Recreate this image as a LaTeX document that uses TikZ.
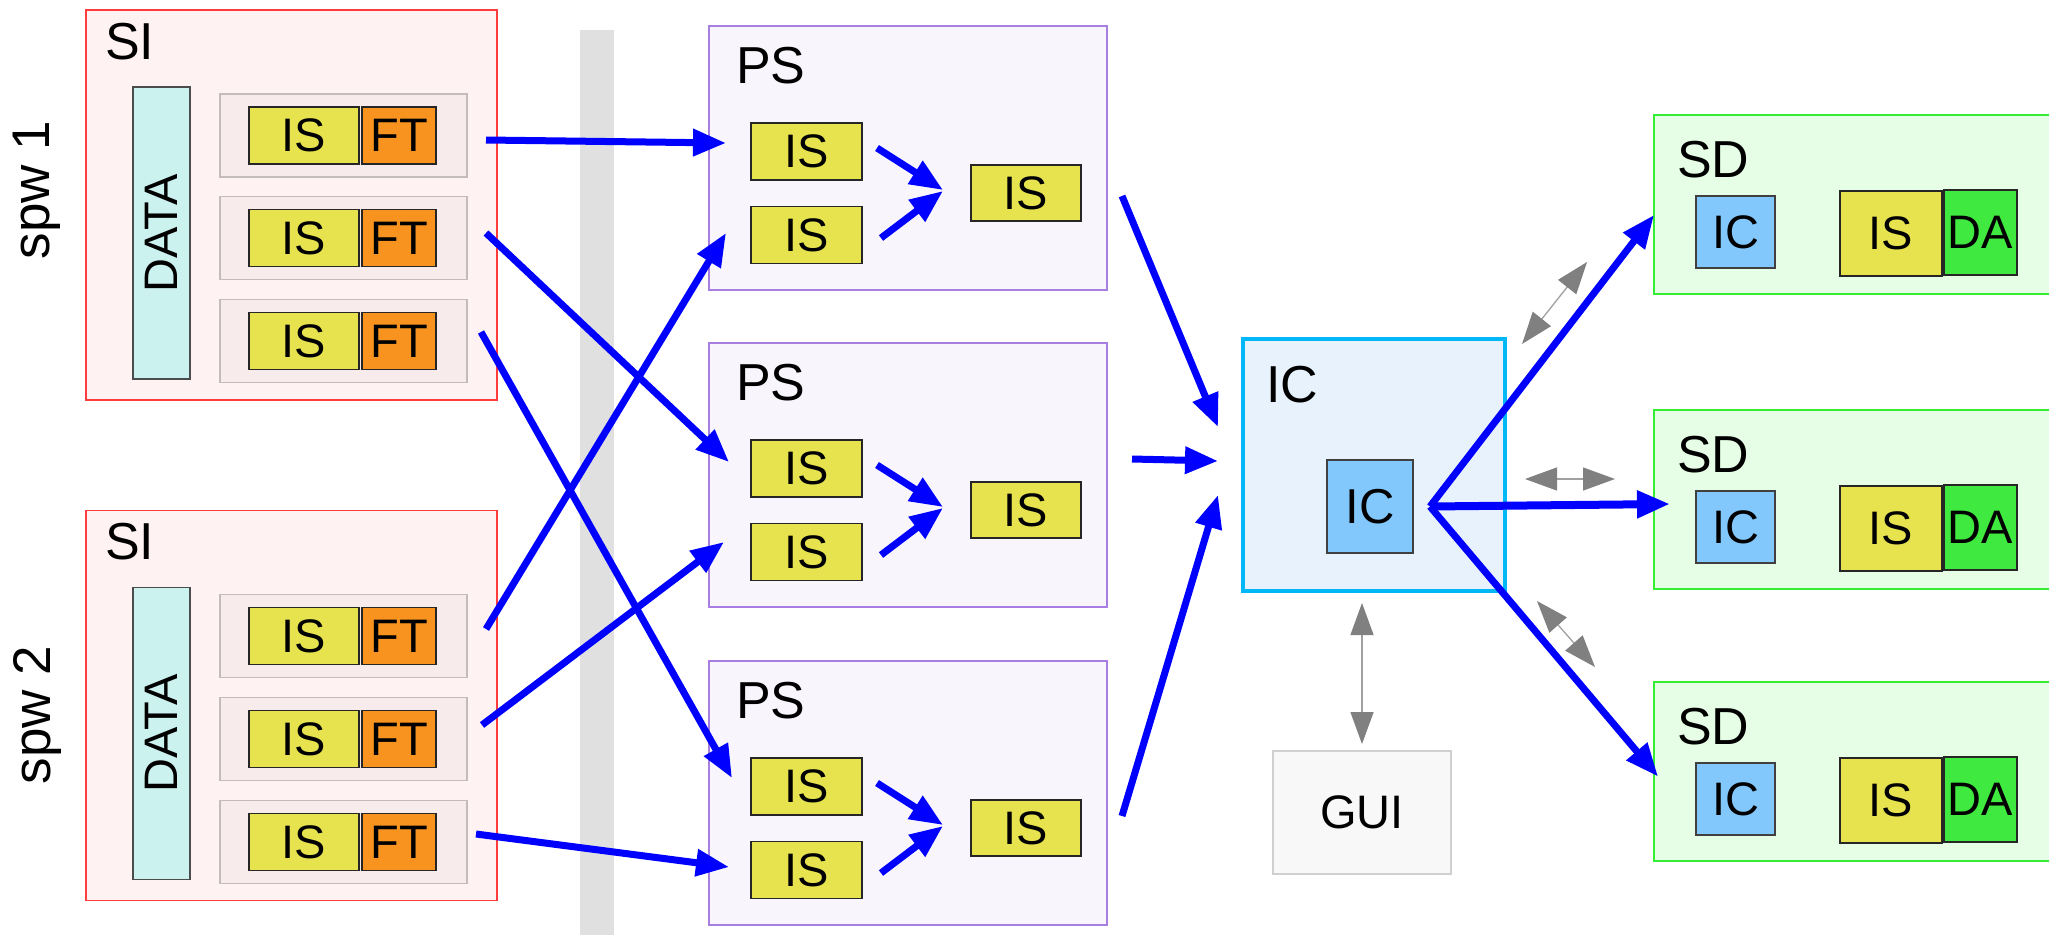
\documentclass[tikz,border=0pt]{standalone}
\usepackage{fontspec}
\setmainfont{Liberation Sans}
\usetikzlibrary{arrows.meta,calc}
\definecolor{siFill}{HTML}{FFF2F2}
\definecolor{siDraw}{HTML}{FF3B3B}
\definecolor{rowFill}{HTML}{F8EBEB}
\definecolor{rowDraw}{HTML}{C4BCBC}
\definecolor{dataFill}{HTML}{CCF2F0}
\definecolor{isY}{HTML}{E6E34E}
\definecolor{ftO}{HTML}{F7931E}
\definecolor{psFill}{HTML}{F8F6FC}
\definecolor{psDraw}{HTML}{A87FE0}
\definecolor{icFill}{HTML}{E8F2FC}
\definecolor{icDraw}{HTML}{00B8F8}
\definecolor{icIn}{HTML}{82C8FC}
\definecolor{sdFill}{HTML}{E6FDE6}
\definecolor{sdDraw}{HTML}{33EE33}
\definecolor{daG}{HTML}{3FE93F}
\definecolor{guiFill}{HTML}{F8F8F8}
\definecolor{guiDraw}{HTML}{D0D0D0}
\definecolor{barG}{HTML}{E0E0E0}
\definecolor{arrB}{HTML}{0000FF}
\definecolor{arrG}{HTML}{808080}
\newcommand\myfs[1]{\fontsize{#1pt}{#1pt}\selectfont}
\begin{document}
\begin{tikzpicture}[x=1pt,y=-1pt,
  cont/.style={draw, inner sep=0pt, outer sep=0pt, line width=1.4pt},
  sibox/.style={cont, fill=siFill, draw=siDraw, minimum width=411pt, minimum height=390pt},
  rowbox/.style={cont, fill=rowFill, draw=rowDraw, minimum width=247pt, minimum height=83pt},
  databox/.style={cont, fill=dataFill, draw=black!70, rotate=90, minimum width=292pt, minimum height=57pt, font=\myfs{47}},
  isbox/.style={cont, fill=isY, draw=black!85, font=\myfs{47}},
  ftbox/.style={cont, fill=ftO, draw=black!85, font=\myfs{47}, minimum width=74pt, minimum height=57pt},
  psbox/.style={cont, fill=psFill, draw=psDraw, minimum width=398pt, minimum height=264pt},
  sdbox/.style={cont, fill=sdFill, draw=sdDraw, minimum width=406pt, minimum height=179pt},
  icsmall/.style={cont, fill=icIn, draw=black!75, font=\myfs{47}},
  dabox/.style={cont, fill=daG, draw=black!85, font=\myfs{47}, minimum width=73pt, minimum height=85pt},
  lbl/.style={anchor=base west, inner sep=0pt, font=\myfs{52}},
  sidelbl/.style={rotate=90, inner sep=0pt, font=\myfs{53}},
  barrow/.style={draw=arrB, line width=7pt, -{Triangle[length=33pt,width=26pt]}},
  garrow/.style={draw=arrG!75, line width=1.3pt, {Triangle[length=32pt,width=23pt,color=arrG]}-{Triangle[length=32pt,width=23pt,color=arrG]}}
]
\useasboundingbox (0,0) rectangle (2049,935);
\fill[white] (0,0) rectangle (2049,935);
% separator bar
\fill[barG] (580,30) rectangle (614,935);

% SI blocks
\node[sibox] (si1) at (291.5,205) {};
\node[sibox] (si2) at (291.5,705.5) {};
\node[lbl] (si1l) at (105,59) {SI};
\node[lbl] (si2l) at (105,559) {SI};
\node[databox] (data1) at (161.5,233) {DATA};
\node[databox] (data2) at (161.5,733.5) {DATA};
\node[sidelbl] (spw1) at (37,190) {spw 1};
\node[sidelbl] (spw2) at (37,715) {spw 2};
\foreach \r/\y in {11/135.5,12/238,13/341,21/636,22/739,23/842} {
  \node[rowbox] (row\r) at (343.5,\y) {};
  \node[isbox, minimum width=110pt, minimum height=57pt] (is\r) at (304,\y) {IS};
  \node[ftbox] (ft\r) at (399,\y) {FT};
}

% PS blocks
\foreach \p/\t in {1/26,2/343,3/661} {
  \node[psbox] (ps\p) at (908,{\t+132}) {};
  \node[lbl] (ps\p l) at (736,{\t+57}) {PS};
  \node[isbox, minimum width=111pt, minimum height=57pt] (psa\p) at (806.5,{\t+125.5}) {IS};
  \node[isbox, minimum width=111pt, minimum height=57pt] (psb\p) at (806.5,{\t+209}) {IS};
  \node[isbox, minimum width=110pt, minimum height=56pt] (psc\p) at (1026,{\t+167}) {IS};
  \draw[barrow] ($(psa\p.east)+(15,-3.5)$) -- ($(psc\p.west)+(-28,-3)$);
  \draw[barrow] ($(psb\p.east)+(19,3)$) -- ($(psc\p.west)+(-28,-2)$);
}

% IC block
\node[cont, fill=icFill, draw=icDraw, line width=3.5pt, minimum width=262pt, minimum height=252pt] (ic) at (1374,465) {};
\node[lbl] (icl) at (1266,402) {IC};
\node[icsmall, minimum width=86pt, minimum height=93pt, font=\myfs{49}] (icin) at (1370,506.5) {IC};

% GUI
\node[cont, fill=guiFill, draw=guiDraw, minimum width=178pt, minimum height=123pt, font=\myfs{47}] (gui) at (1362,812.5) {GUI};

% SD blocks
\foreach \d/\t in {1/115,2/410,3/682} {
  \node[sdbox] (sd\d) at (1857,{\t+89.5}) {};
  \node[lbl] (sd\d l) at (1677,{\t+62.5}) {SD};
  \node[icsmall, minimum width=79pt, minimum height=72pt] (sdic\d) at (1735.5,{\t+117}) {IC};
  \node[isbox, minimum width=102pt, minimum height=85pt] (sdis\d) at (1891,{\t+118.5}) {IS};
  \node[dabox] (sdda\d) at (1980.5,{\t+117.5}) {DA};
}

% SI -> PS arrows
\draw[barrow] ($(row11.east)+(19,4.5)$) -- ($(psa1.west)+(-25,-8.5)$);
\draw[barrow] ($(row12.east)+(19,-5)$) -- ($(psa2.west)+(-22,-6.5)$);
\draw[barrow] ($(row13.east)+(14,-9)$) -- ($(psa3.west)+(-19,-8.5)$);
\draw[barrow] ($(row21.east)+(19,-7)$) -- ($(psb1.west)+(-25,-2)$);
\draw[barrow] ($(row22.east)+(15,-14)$) -- ($(psb2.west)+(-27,-10)$);
\draw[barrow] ($(row23.east)+(9,-8)$) -- ($(psb3.west)+(-22,-3)$);

% PS -> IC arrows
\draw[barrow] ($(ps1.east)+(15,38)$) -- ($(ic.west)+(-25,-38)$);
\draw[barrow] ($(ps2.east)+(25,-16)$) -- ($(ic.west)+(-25,-4)$);
\draw[barrow] ($(ps3.east)+(15,23)$) -- ($(ic.west)+(-25,30)$);

% IC -> SD arrows
\draw[barrow] ($(icin.east)+(17,0)$) -- ($(sd1.west)+(0,10.5)$);
\draw[barrow, line width=8pt] ($(icin.east)+(17,0)$) -- ($(sd2.west)+(16,4.5)$);
\draw[barrow] ($(icin.east)+(17,0)$) -- ($(sd3.west)+(4,5)$);

% gray two-way arrows
\draw[garrow] ($(ic.north east)+(17,5)$) -- ($(sd1.south west)+(-67,-32)$);
\draw[garrow] ($(ic.east)+(20,14)$) -- ($(sd2.west)+(-39,-20.5)$);
\draw[garrow] ($(ic.south east)+(32,10)$) -- ($(sd3.north west)+(-59,-15)$);
\draw[garrow] ($(ic.south -| gui.north)+(0,12)$) -- ($(gui.north)+(0,-7)$);
\end{tikzpicture}
\end{document}
